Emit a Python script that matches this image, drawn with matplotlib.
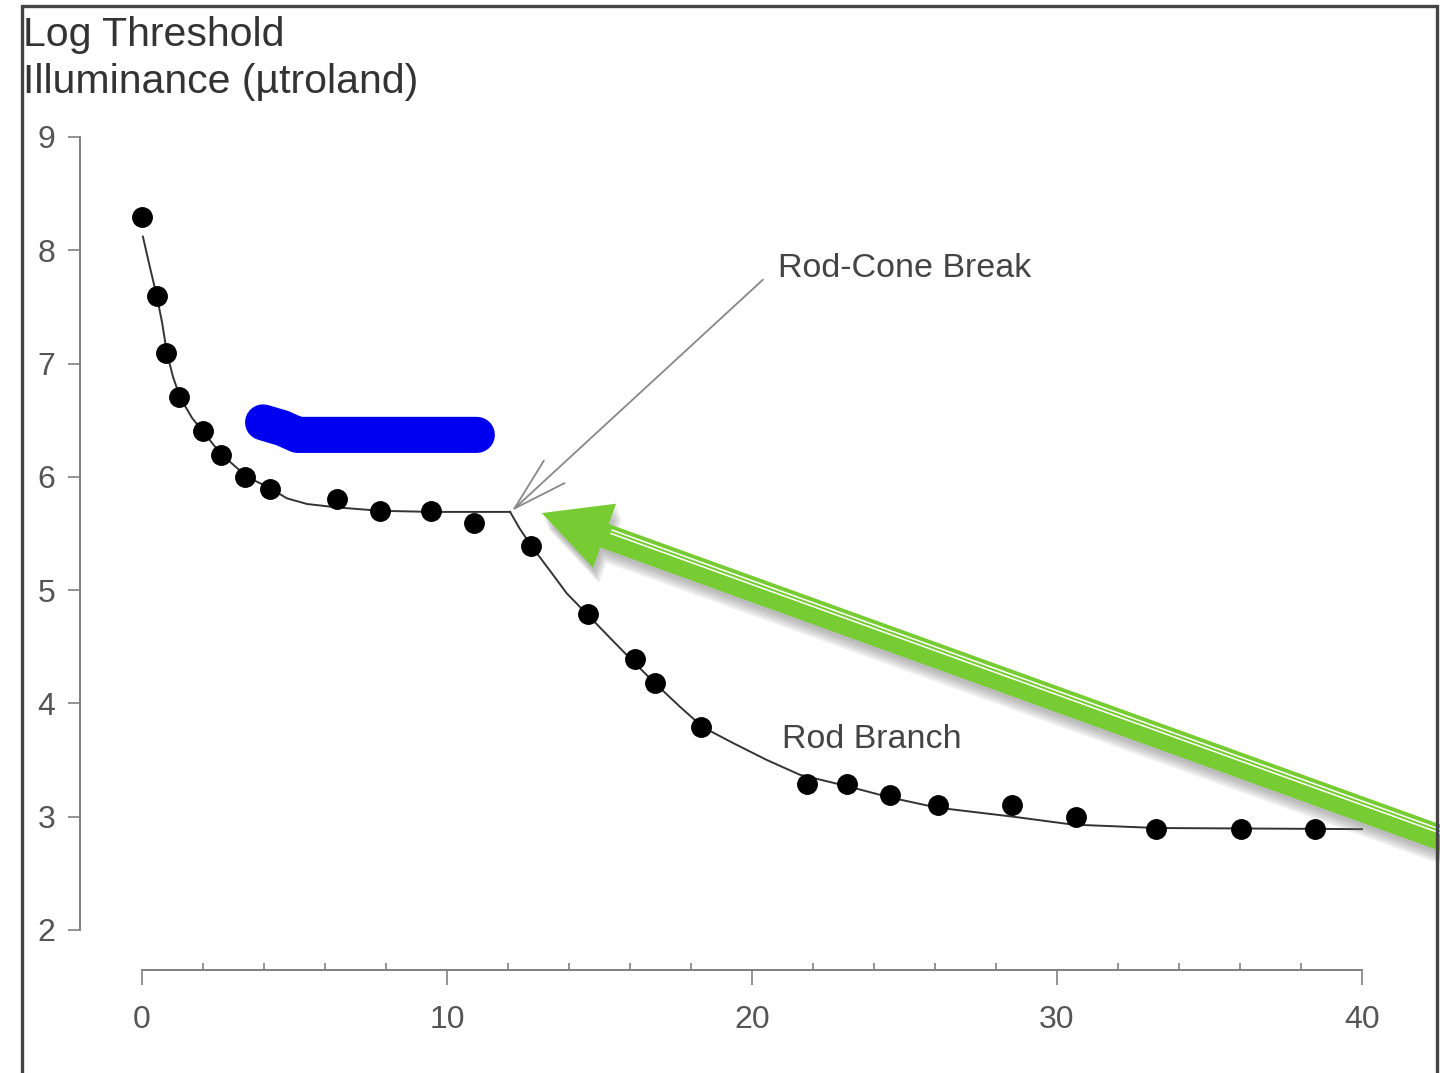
import numpy as np
import matplotlib
matplotlib.use("Agg")
import matplotlib.pyplot as plt
import matplotlib.patheffects as pe
from matplotlib.patches import Rectangle
from matplotlib.ticker import MultipleLocator
from matplotlib.transforms import offset_copy

plt.rcParams['font.family'] = ['Liberation Sans', 'DejaVu Sans']

# measured thresholds (minutes in dark, log threshold)
time_min = [0, 0.49, 0.79, 1.21, 2.0, 2.59, 3.38, 4.2, 6.39, 7.8, 9.48, 10.89,
            12.75, 14.62, 16.16, 16.82, 18.33, 21.8, 23.11, 24.52, 26.1, 28.52,
            30.62, 33.25, 36.03, 38.46]
log_thresh = [8.29, 7.60, 7.09, 6.70, 6.40, 6.19, 6.00, 5.89, 5.80, 5.70, 5.70, 5.59,
              5.39, 4.79, 4.39, 4.18, 3.79, 3.29, 3.29, 3.19, 3.10, 3.10,
              3.00, 2.89, 2.89, 2.89]

# fitted curve, cone branch then rod branch
cone_x = [0.03, 0.26, 0.49, 0.66, 0.82, 1.02, 1.25, 1.64, 2.0, 2.56, 3.44, 4.2,
          4.75, 5.41, 6.39, 7.8, 9.51, 12.07]
cone_y = [8.12, 7.85, 7.59, 7.36, 7.09, 6.88, 6.70, 6.52, 6.40, 6.21, 6.00, 5.90,
          5.81, 5.76, 5.73, 5.70, 5.69, 5.69]
rod_x = [12.07, 12.39, 12.82, 13.38, 13.93, 14.62, 15.34, 16.10, 16.89, 17.64, 18.39,
         19.38, 20.49, 21.57, 23.11, 24.52, 26.07, 28.56, 30.52, 33.28, 40.0]
rod_y = [5.69, 5.54, 5.37, 5.17, 4.97, 4.78, 4.58, 4.37, 4.16, 3.97, 3.79,
         3.65, 3.50, 3.37, 3.27, 3.17, 3.08, 3.00, 2.93, 2.90, 2.89]

# hand-drawn blue highlight
blue_x = [3.97, 4.6, 5.1, 10.98]
blue_y = [6.48, 6.43, 6.37, 6.37]

xticks = [0, 10, 20, 30, 40]
yticks = [2, 3, 4, 5, 6, 7, 8, 9]

fig = plt.figure(figsize=(14.4, 10.73), dpi=100)
ax = fig.add_axes([0.0986, 0.1333, 0.8472, 0.7391])
ax.set_xlim(0, 40)
ax.set_ylim(2, 9)

# curve and points
ax.plot(cone_x, cone_y, color='#333333', lw=1.4, clip_on=False, zorder=2)
ax.plot(rod_x, rod_y, color='#333333', lw=1.4, clip_on=False, zorder=2)
ax.plot(time_min, log_thresh, 'o', color='black', ms=14, clip_on=False, zorder=3)

ax.plot(blue_x, blue_y, color='#0000f0', lw=26, solid_capstyle='round',
        solid_joinstyle='round', zorder=4)

# axes styling
for s in ['top', 'right']:
    ax.spines[s].set_visible(False)
ax.spines['left'].set_position(('outward', 44.6))
ax.spines['bottom'].set_position(('outward', 28.8))
ax.spines['left'].set_bounds(2, 9)
ax.spines['bottom'].set_bounds(0, 40)
for s in ['left', 'bottom']:
    ax.spines[s].set_color('#808080')
    ax.spines[s].set_linewidth(1.4)

ax.set_xticks(xticks)
ax.set_yticks(yticks)
ax.xaxis.set_minor_locator(MultipleLocator(2))
ax.tick_params(axis='y', direction='out', length=9, width=1.2, color='#808080',
               labelsize=23, labelcolor='#555555', pad=9)
ax.tick_params(axis='x', which='major', direction='out', length=11, width=1.2,
               color='#808080', labelsize=23, labelcolor='#555555', pad=14)
ax.tick_params(axis='x', which='minor', direction='in', length=5, width=1.2,
               color='#808080')

# y label at top left
fig.text(0.016, 0.985, 'Log Threshold\nIlluminance (\u00b5troland)', ha='left', va='top',
         fontsize=29.5, color='#333333', linespacing=1.3)

# annotations
ax.text(20.85, 7.84, 'Rod-Cone Break', ha='left', va='center', fontsize=24.5, color='#444444')
ax.annotate('', xy=(12.13, 5.70), xytext=(20.36, 7.74),
            arrowprops=dict(arrowstyle='->,head_length=3.9,head_width=1.1',
                            mutation_scale=10, color='#888888', lw=1.3,
                            shrinkA=0, shrinkB=0))
ax.text(20.98, 3.68, 'Rod Branch', ha='left', va='center', fontsize=24.5, color='#444444')

# green arrow pointing at the break, with a soft shadow
tip = np.array([13.11, 5.68])
tail = np.array([42.72, 2.80])
shadow = [pe.SimplePatchShadow(offset=(o * 0.4, -o), shadow_rgbFace='#777777', alpha=0.12)
          for o in (3, 5, 7, 9, 11)]
ax.annotate('', xy=tip, xytext=tail, annotation_clip=False,
            arrowprops=dict(arrowstyle='simple,head_length=4.8,head_width=4.9,tail_width=1.8',
                            mutation_scale=10, color='#77cc33', lw=0,
                            shrinkA=0, shrinkB=0,
                            path_effects=shadow + [pe.Normal()]))
base = tip + (tail - tip) * 0.075
for dx, dy in [(1.0, 2.9), (1.9, 5.3)]:
    tr = offset_copy(ax.transData, fig=fig, x=dx, y=dy, units='points')
    ax.plot([base[0], tail[0]], [base[1], tail[1]], color='white', lw=1.1,
            transform=tr, clip_on=False, zorder=6)

# frame around the picture
fig.patches.append(Rectangle((22 / 1440, -0.05), 1415 / 1440, 1.05 - 6 / 1073,
                             transform=fig.transFigure, fill=False,
                             edgecolor='#444444', lw=2.4))

fig.savefig('out.png', dpi=100)
